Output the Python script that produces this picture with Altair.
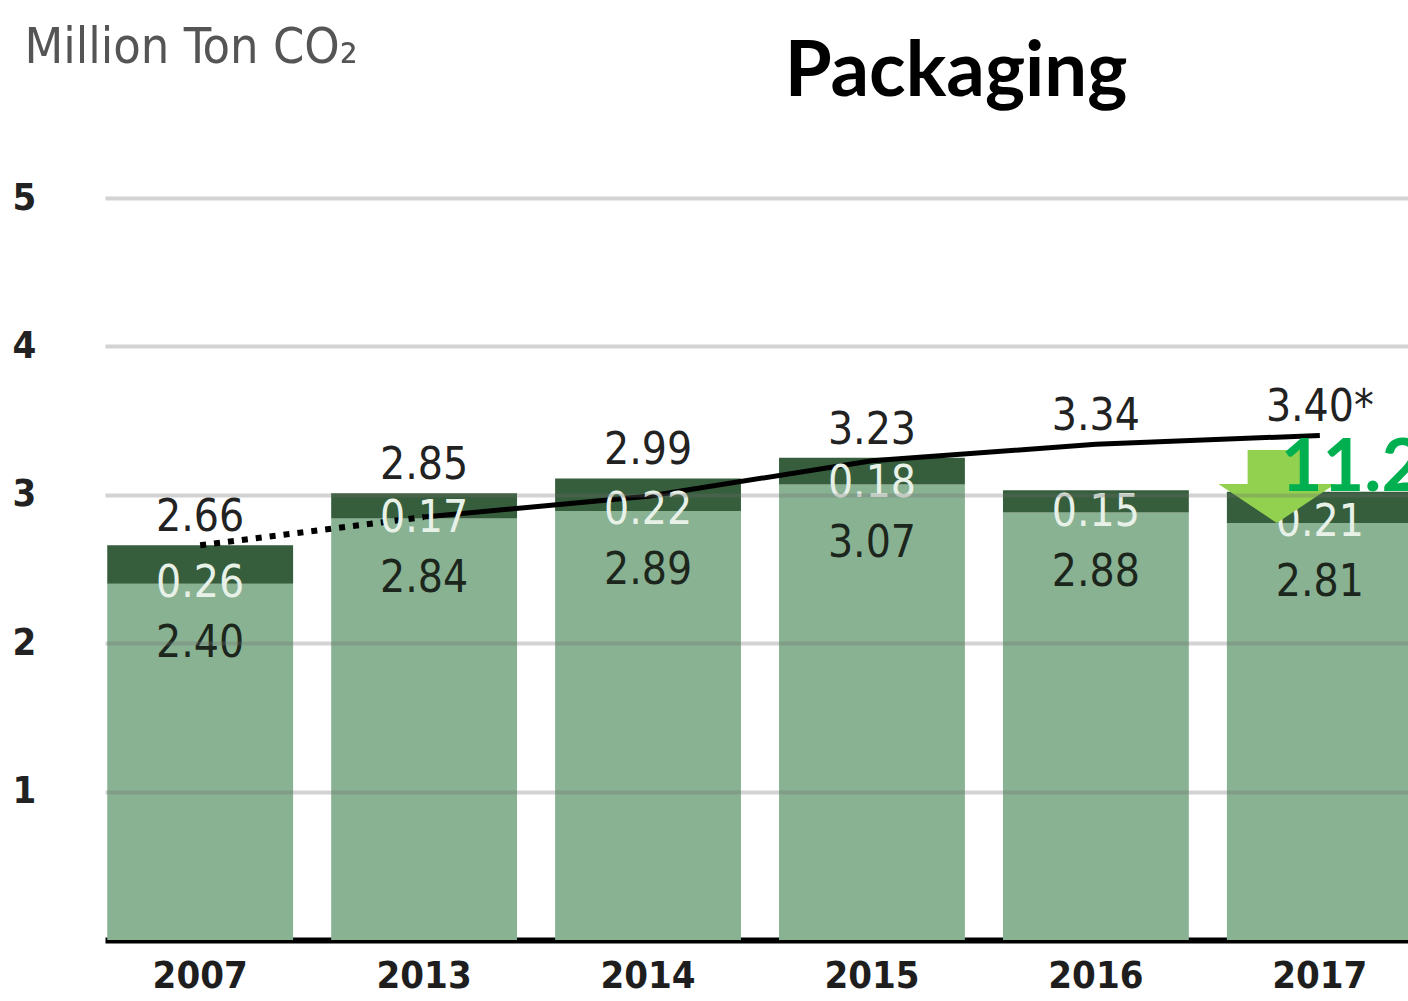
import altair as alt
import pandas as pd

years = ["2007", "2013", "2014", "2015", "2016", "2017"]
base_vals = [2.40, 2.84, 2.89, 3.07, 2.88, 2.81]
top_vals = [0.26, 0.17, 0.22, 0.18, 0.15, 0.21]
bau_vals = [2.66, 2.85, 2.99, 3.23, 3.34, 3.40]
bau_labels = ["2.66", "2.85", "2.99", "3.23", "3.34", "3.40*"]
base_labels = ["2.40", "2.84", "2.89", "3.07", "2.88", "2.81"]
top_labels = ["0.26", "0.17", "0.22", "0.18", "0.15", "0.21"]
reduction_label = ["11.2%"]
reduction_year = ["2017"]
y_ticks = [1, 2, 3, 4, 5]

LIGHT = "#89b293"
DARK = "#365e3c"
FONT = "DejaVu Sans Condensed"

df = pd.DataFrame({
    "year": years,
    "base": base_vals,
    "top": [b + t for b, t in zip(base_vals, top_vals)],
    "bau": bau_vals,
    "bau_label": bau_labels,
    "base_label": base_labels,
    "top_label": top_labels,
})
df["label_pos"] = df[["bau", "top"]].max(axis=1)
dotted_df = df[df["year"].isin(["2007", "2013"])]
solid_df = df[df["year"] != "2007"]

x_scale = alt.Scale(domain=years, paddingInner=0.17, paddingOuter=0.01, range=[0, 1310])
y_scale = alt.Scale(domain=[0, 5], nice=False, zero=True)

x_enc = alt.X(
    "year:N", scale=x_scale, sort=years, title=None,
    axis=alt.Axis(
        labelAngle=0, labelFont=FONT, labelFontWeight="bold", labelFontSize=38,
        labelColor="#1e1e1e", labelPadding=36, labelBaseline="middle",
        ticks=False, tickSize=0, domainColor="#000000", domainWidth=6, grid=False,
    ),
)
y_axis = alt.Axis(
    values=y_ticks, format="d", title="Million Ton CO\u2082", titleAngle=0, titleAlign="left",
    titleBaseline="alphabetic", titleX=-81, titleY=-136, titleFont=FONT,
    titleFontSize=50, titleFontWeight="normal", titleColor="#555555",
    labelFont=FONT, labelFontWeight="bold", labelFontSize=38, labelColor="#222222",
    labelAlign="left", labelBaseline="middle", labelPadding=93,
    ticks=False, tickSize=0, domain=False,
    grid=True, gridColor="#6e6e6e", gridOpacity=0.3, gridWidth=4, zindex=1,
)

base = alt.Chart(df)

bar_low = base.mark_bar(color=LIGHT).encode(
    x=x_enc,
    y=alt.Y("base:Q", scale=y_scale, axis=y_axis),
)
bar_high = base.mark_bar(color=DARK).encode(
    x=alt.X("year:N", scale=x_scale, sort=years),
    y=alt.Y("base:Q", scale=y_scale),
    y2="top:Q",
)

line_dotted = alt.Chart(dotted_df).mark_line(
    color="#000000", strokeWidth=6, strokeDash=[6, 8]
).encode(
    x=alt.X("year:N", scale=x_scale, sort=years),
    y=alt.Y("bau:Q", scale=y_scale),
)
line_solid = alt.Chart(solid_df).mark_line(color="#000000", strokeWidth=5).encode(
    x=alt.X("year:N", scale=x_scale, sort=years),
    y=alt.Y("bau:Q", scale=y_scale),
)

bau_text = base.mark_text(
    font=FONT, fontSize=44, color="#222222", baseline="middle", align="center", dy=-27
).encode(
    x=alt.X("year:N", scale=x_scale, sort=years),
    y=alt.Y("label_pos:Q", scale=y_scale),
    text="bau_label:N",
)
top_text = base.mark_text(
    font=FONT, fontSize=44, color="#e8f1e8", baseline="middle", align="center"
).encode(
    x=alt.X("year:N", scale=x_scale, sort=years),
    y=alt.Y("base:Q", scale=y_scale),
    text="top_label:N",
)
base_text = base.mark_text(
    font=FONT, fontSize=44, color="#1c261c", baseline="middle", align="center", dy=60
).encode(
    x=alt.X("year:N", scale=x_scale, sort=years),
    y=alt.Y("base:Q", scale=y_scale),
    text="base_label:N",
)

ann_df = pd.DataFrame({"year": reduction_year, "label": reduction_label})
arrow = alt.Chart(ann_df).mark_point(
    shape="M-0.8,-1 L0.8,-1 L0.8,-0.07 L1.6,-0.07 L0,1 L-1.6,-0.07 L-0.8,-0.07 Z",
    filled=True, color="#92d050", opacity=1, size=5329, xOffset=-43,
).encode(
    x=alt.X("year:N", scale=x_scale, sort=years),
    y=alt.value(486.5 - 198),
)
pct_text = alt.Chart(ann_df).mark_text(
    font="Lato", fontWeight="bold", fontSize=72, color="#00b050",
    align="left", baseline="middle", dx=-39,
).encode(
    x=alt.X("year:N", scale=x_scale, sort=years),
    y=alt.value(469 - 198),
    text="label:N",
)

title_df = pd.DataFrame({"t": ["Packaging"]})
title_text = alt.Chart(title_df).mark_text(
    font="Lato", fontWeight="bold", fontSize=76, color="#000000",
    align="center", baseline="middle",
).encode(
    x=alt.value(956 - 105),
    y=alt.value(73 - 198),
    text="t:N",
)

chart = alt.layer(
    bar_low, bar_high, line_dotted, line_solid, top_text, base_text, bau_text,
    arrow, pct_text, title_text,
).properties(
    width=1303,
    height=742,
    padding={"left": 105, "top": 198, "right": 0, "bottom": 61},
    autosize=alt.AutoSizeParams(type="none"),
    background="#ffffff",
).configure_view(stroke=None)

chart.save("out.html", embed_options={"renderer": "svg", "actions": False})
